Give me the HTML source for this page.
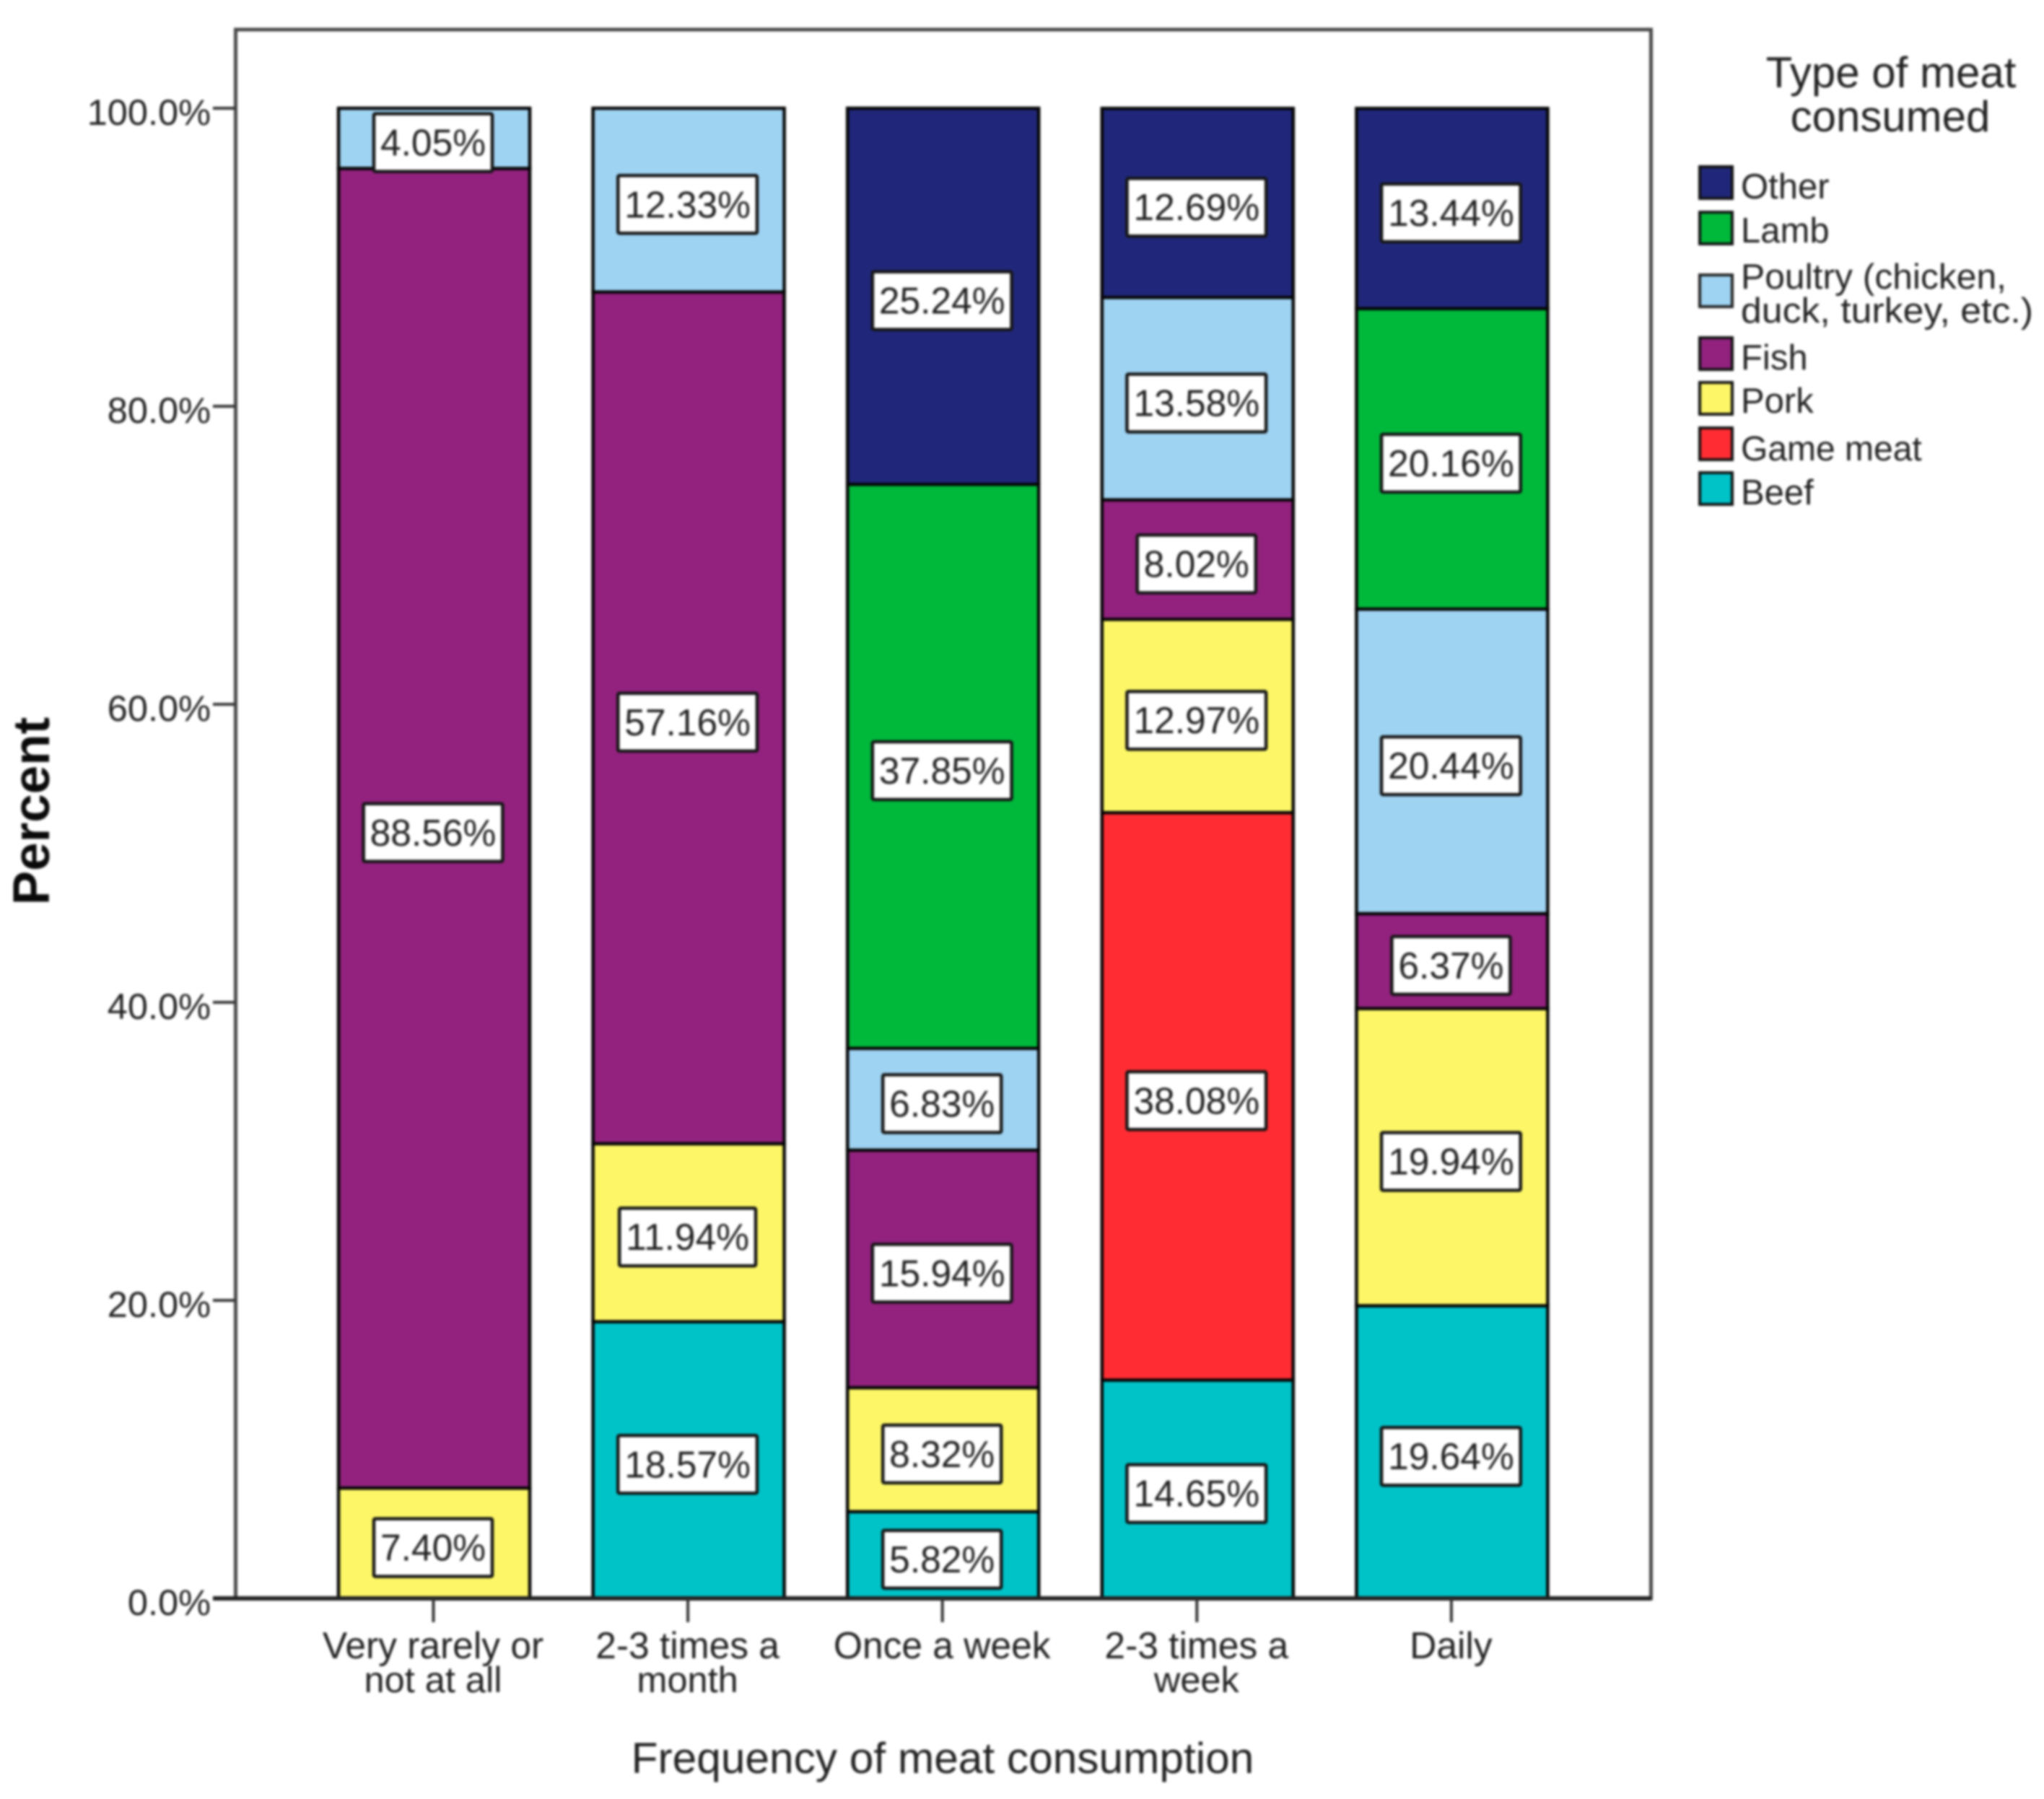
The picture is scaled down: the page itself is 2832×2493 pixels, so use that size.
<!DOCTYPE html>
<html lang="en">
<head>
<meta charset="utf-8">
<title>Type of meat consumed by frequency of meat consumption</title>
<style>
  html, body { margin: 0; padding: 0; background: #fff; }
  body { width: 2832px; height: 2493px; overflow: hidden; }
  svg { display: block; filter: blur(1.5px); font-family: "Liberation Sans", Arial, sans-serif; }
  text { fill: #222222; }
</style>
</head>
<body>
<svg id="chart" xmlns="http://www.w3.org/2000/svg" width="2832" height="2493" viewBox="0 0 2832 2493">
  <rect x="0" y="0" width="2832" height="2493" fill="#ffffff"/>
  <rect x="326.5" y="41" width="1961" height="2174" fill="#ffffff" stroke="#4a4a4a" stroke-width="5"/>
  <g id="y-axis"></g>
  <g id="bars"></g>
  <line x1="295" y1="2215" x2="2288" y2="2215" stroke="#222222" stroke-width="6"/>
  <g id="value-labels"></g>
  <g id="x-axis"></g>

  <text transform="translate(68,1124) rotate(-90)" text-anchor="middle" font-size="71" font-weight="bold" style="fill:#0a0a0a">Percent</text>
  <text x="1306" y="2457" text-anchor="middle" font-size="60.4">Frequency of meat consumption</text>

  <g>
    <text x="2620" y="121" text-anchor="middle" font-size="60">Type of meat</text>
    <text x="2619" y="182" text-anchor="middle" font-size="60">consumed</text>

    <rect x="2355" y="231" width="45" height="44" fill="#20277a" stroke="#111" stroke-width="4"/>
    <text x="2412" y="275" font-size="49">Other</text>

    <rect x="2355" y="294" width="45" height="44" fill="#00b93b" stroke="#111" stroke-width="4"/>
    <text x="2412" y="336" font-size="49">Lamb</text>

    <rect x="2355" y="381" width="45" height="44" fill="#9fd3f2" stroke="#222" stroke-width="4"/>
    <text x="2412" y="400" font-size="49" textLength="368" lengthAdjust="spacingAndGlyphs">Poultry (chicken,</text>
    <text x="2412" y="447" font-size="49" textLength="405" lengthAdjust="spacingAndGlyphs">duck, turkey, etc.)</text>

    <rect x="2355" y="468" width="45" height="44" fill="#92227e" stroke="#111" stroke-width="4"/>
    <text x="2412" y="512" font-size="49">Fish</text>

    <rect x="2355" y="530" width="45" height="44" fill="#fdf767" stroke="#111" stroke-width="4"/>
    <text x="2412" y="572" font-size="49">Pork</text>

    <rect x="2355" y="593" width="45" height="44" fill="#ff2d33" stroke="#111" stroke-width="4"/>
    <text x="2412" y="638" font-size="48">Game meat</text>

    <rect x="2355" y="655" width="45" height="44" fill="#00c3c8" stroke="#111" stroke-width="4"/>
    <text x="2412" y="699" font-size="49">Beef</text>
  </g>
</svg>
<script>
const categoryLine1 = ["Very rarely or", "2-3 times a", "Once a week", "2-3 times a", "Daily"];
const categoryLine2 = ["not at all", "month", "", "week", ""];
const yTicks = [0, 20, 40, 60, 80, 100];
const seriesNames = ["Beef", "Game meat", "Pork", "Fish", "Poultry", "Lamb", "Other"];
const seriesColors = ["#00c3c8", "#ff2d33", "#fdf767", "#92227e", "#9fd3f2", "#00b93b", "#20277a"];
const beefValues = [0, 18.57, 5.82, 14.65, 19.64];
const gameValues = [0, 0, 0, 38.08, 0];
const porkValues = [7.40, 11.94, 8.32, 12.97, 19.94];
const fishValues = [88.56, 57.16, 15.94, 8.02, 6.37];
const poultryValues = [4.05, 12.33, 6.83, 13.58, 20.44];
const lambValues = [0, 0, 37.85, 0, 20.16];
const otherValues = [0, 0, 25.24, 12.69, 13.44];
const seriesValues = [beefValues, gameValues, porkValues, fishValues, poultryValues, lambValues, otherValues];

const NS = "http://www.w3.org/2000/svg";
const Y0 = 2215, PX_PER_PCT = 20.65, X0 = 601.5, X_STEP = 352.6, BAR_W = 265;
function yScale(v) { return Y0 - v * PX_PER_PCT; }
function xScale(i) { return X0 + i * X_STEP; }
function slug(s) { return s.toLowerCase().replace(/[^a-z0-9]+/g, "-"); }
function make(tag, attrs, parent) {
  const el = document.createElementNS(NS, tag);
  for (const k in attrs) el.setAttribute(k, attrs[k]);
  parent.appendChild(el);
  return el;
}

const yAxis = document.getElementById("y-axis");
yTicks.forEach(function (t) {
  const tick = make("line", { x1: 295, x2: 326, y1: yScale(t), y2: yScale(t), stroke: "#333", "stroke-width": 4 }, yAxis);
  
  
  const lab = make("text", { x: 292, y: yScale(t) + 23, "text-anchor": "end", "font-size": 50.5 }, yAxis);
  lab.textContent = t.toFixed(1) + "%";
  
  
});

const xAxis = document.getElementById("x-axis");
categoryLine1.forEach(function (line, i) {
  const tick = make("line", { x1: xScale(i) - 1, x2: xScale(i) - 1, y1: Y0, y2: Y0 + 33, stroke: "#333", "stroke-width": 4 }, xAxis);
  
  
  const lab1 = make("text", { x: xScale(i) - 1.5, y: 2298, "text-anchor": "middle", "font-size": 51.5 }, xAxis);
  lab1.textContent = line;
  
  
  if (categoryLine2[i]) {
    const lab2 = make("text", { x: xScale(i) - 1.5, y: 2345, "text-anchor": "middle", "font-size": 50.5 }, xAxis);
    lab2.textContent = categoryLine2[i];
    
    
  }
});

const bars = document.getElementById("bars");
const labels = document.getElementById("value-labels");
categoryLine1.forEach(function (_, i) {
  let cum = 0;
  seriesValues.forEach(function (vals, s) {
    const v = vals[i];
    if (!v) return;
    const top = Math.min(cum + v, 100);
    const rect = make("rect", {
      x: xScale(i) - BAR_W / 2, y: yScale(top), width: BAR_W, height: yScale(cum) - yScale(top),
      fill: seriesColors[s], stroke: "#050505", "stroke-width": 4.5
    }, bars);
    
    
    const cy = yScale(cum + v / 2) + 6;
    const cx = xScale(i) - 1.5;
    const box = make("rect", { x: cx - 80, y: cy - 40, width: 160, height: 80, fill: "#ffffff", stroke: "#151515", "stroke-width": 4.5, rx: 2 }, labels);
    
    
    const txt = make("text", { x: cx, y: cy + 18, "text-anchor": "middle", "font-size": 51.5 }, labels);
    txt.textContent = v.toFixed(2) + "%";
    
    
    const w = txt.getComputedTextLength() + 18;
    box.setAttribute("x", cx - w / 2);
    box.setAttribute("width", w);
    cum += v;
  });
});
</script>
</body>
</html>
